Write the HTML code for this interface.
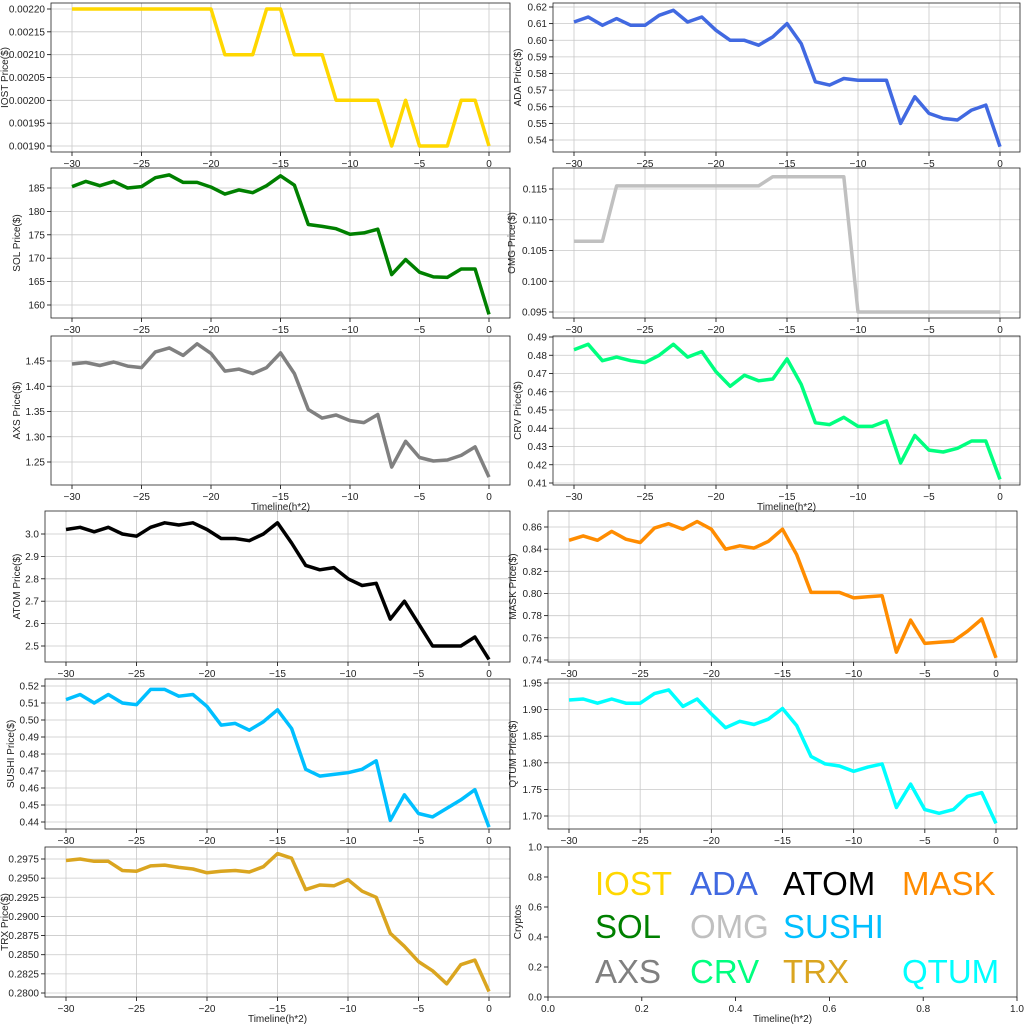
<!DOCTYPE html><html><head><meta charset="utf-8"><style>body{margin:0;background:#fff}svg{display:block}text{font-family:"Liberation Sans","DejaVu Sans",sans-serif}</style></head><body>
<svg id="s" width="1024" height="1024" xmlns="http://www.w3.org/2000/svg"></svg>
<script>
const S=document.getElementById('s');let h='';
function P(o){
 const {L,R,T,B,x30,x0,v1,y1,v2,y2,ticks,fmt,data,color,label,lx,xl}=o;
 const xs=x=>x30+(x+30)*(x0-x30)/30, ys=v=>y1+(v-v1)*(y2-y1)/(v2-v1);
 h+=`<g>`;
 for(let t=-30;t<=0;t+=5){const X=xs(t);h+=`<line x1="${X}" y1="${T}" x2="${X}" y2="${B}" stroke="#c8c8c8" stroke-width="0.8"/><line x1="${X}" y1="${B}" x2="${X}" y2="${B+4}" stroke="#000" stroke-width="0.8"/><text x="${X}" y="${B+15}" font-size="10" text-anchor="middle" fill="#222">${t<0?'−'+(-t):t}</text>`;}
 ticks.forEach(t=>{const Y=ys(t);h+=`<line x1="${L}" y1="${Y}" x2="${R}" y2="${Y}" stroke="#c8c8c8" stroke-width="0.8"/><line x1="${L-4}" y1="${Y}" x2="${L}" y2="${Y}" stroke="#000" stroke-width="0.8"/><text x="${L-6}" y="${Y+3.5}" font-size="10" text-anchor="end" fill="#222">${t.toFixed(fmt)}</text>`;});
 h+=`<polyline fill="none" stroke="${color}" stroke-width="3.5" stroke-linejoin="round" points="${data.map((v,i)=>xs(i-30).toFixed(1)+','+ys(v).toFixed(1)).join(' ')}"/>`;
 h+=`<rect x="${L}" y="${T}" width="${R-L}" height="${B-T}" fill="none" stroke="#222" stroke-width="0.8"/>`;
 h+=`<text transform="translate(${lx},${(T+B)/2}) rotate(-90)" font-size="10" text-anchor="middle" fill="#222">${label}</text>`;
 if(xl)h+=`<text x="${(L+R)/2}" y="${B+25}" font-size="10" text-anchor="middle" fill="#222">Timeline(h*2)</text>`;
 h+=`</g>`;
}
const rng=(a,b,s)=>{let r=[];for(let v=a;v<=b+s/1e3;v+=s)r.push(+v.toFixed(6));return r};
const TL={L:51,R:510,x30:72,x0:489},TR={L:553,R:1020,x30:574,x0:1000},BL={L:45,R:510,x30:66,x0:489},BR={L:548,R:1017,x30:569,x0:996};
P({...TL,T:3,B:152,v1:0.0022,y1:9,v2:0.0019,y2:146,ticks:rng(0.0019,0.0022,0.00005),fmt:5,color:'#FFD700',label:'IOST Price($)',lx:8,
data:[.0022,.0022,.0022,.0022,.0022,.0022,.0022,.0022,.0022,.0022,.0022,.0021,.0021,.0021,.0022,.0022,.0021,.0021,.0021,.002,.002,.002,.002,.0019,.002,.0019,.0019,.0019,.002,.002,.0019]});
P({...TR,T:3,B:152,v1:0.62,y1:7,v2:0.54,y2:140,ticks:rng(0.54,0.62,0.01),fmt:2,color:'#4169E1',label:'ADA  Price($)',lx:521,
data:[.611,.614,.609,.613,.609,.609,.615,.618,.611,.614,.606,.6,.6,.597,.602,.61,.598,.575,.573,.577,.576,.576,.576,.55,.566,.556,.553,.552,.558,.561,.536]});
P({...TL,T:168,B:318,v1:185,y1:188,v2:160,y2:305,ticks:rng(160,185,5),fmt:0,color:'#008000',label:'SOL Price($)',lx:20,
data:[185.3,186.4,185.5,186.4,185,185.3,187.2,187.8,186.2,186.2,185.2,183.7,184.6,184,185.5,187.6,185.6,177.2,176.8,176.3,175.1,175.4,176.2,166.5,169.7,167,166,165.9,167.7,167.7,158]});
P({...TR,T:168,B:318,v1:0.115,y1:189,v2:0.095,y2:312,ticks:rng(0.095,0.115,0.005),fmt:3,color:'#C0C0C0',label:'OMG  Price($)',lx:515,
data:[.1065,.1065,.1065,.1155,.1155,.1155,.1155,.1155,.1155,.1155,.1155,.1155,.1155,.1155,.117,.117,.117,.117,.117,.117,.095,.095,.095,.095,.095,.095,.095,.095,.095,.095,.095]});
P({...TL,T:336,B:485,v1:1.45,y1:361,v2:1.25,y2:462,ticks:rng(1.25,1.45,0.05),fmt:2,color:'#808080',label:'AXS Price($)',lx:20,xl:1,
data:[1.444,1.447,1.441,1.448,1.44,1.437,1.468,1.476,1.461,1.484,1.465,1.43,1.434,1.425,1.437,1.466,1.425,1.354,1.337,1.343,1.332,1.328,1.344,1.24,1.291,1.259,1.252,1.254,1.263,1.28,1.22]});
P({...TR,T:336,B:485,v1:0.49,y1:337,v2:0.41,y2:483,ticks:rng(0.41,0.49,0.01),fmt:2,color:'#00FF7F',label:'CRV  Price($)',lx:521,xl:1,
data:[.483,.486,.477,.479,.477,.476,.48,.486,.479,.482,.471,.463,.469,.466,.467,.478,.464,.443,.442,.446,.441,.441,.444,.421,.436,.428,.427,.429,.433,.433,.412]});
P({...BL,T:511,B:662,v1:3.0,y1:534,v2:2.5,y2:646,ticks:rng(2.5,3.0,0.1),fmt:1,color:'#000',label:'ATOM  Price($)',lx:20,
data:[3.02,3.03,3.01,3.03,3.0,2.99,3.03,3.05,3.04,3.05,3.02,2.98,2.98,2.97,3.0,3.05,2.96,2.86,2.84,2.85,2.8,2.77,2.78,2.62,2.7,2.6,2.5,2.5,2.5,2.54,2.44]});
P({...BR,T:511,B:662,v1:0.86,y1:527,v2:0.74,y2:660,ticks:rng(0.74,0.86,0.02),fmt:2,color:'#FF8C00',label:'MASK  Price($)',lx:516,
data:[.848,.852,.848,.856,.849,.846,.859,.863,.858,.865,.858,.84,.843,.841,.847,.858,.835,.801,.801,.801,.796,.797,.798,.747,.776,.755,.756,.757,.766,.777,.742]});
P({...BL,T:679,B:829,v1:0.52,y1:686,v2:0.44,y2:822,ticks:rng(0.44,0.52,0.01),fmt:2,color:'#00BFFF',label:'SUSHI  Price($)',lx:14,
data:[.512,.515,.51,.515,.51,.509,.518,.518,.514,.515,.508,.497,.498,.494,.499,.506,.495,.471,.467,.468,.469,.471,.476,.441,.456,.445,.443,.448,.453,.459,.437]});
P({...BR,T:679,B:829,v1:1.95,y1:683,v2:1.70,y2:816,ticks:rng(1.7,1.95,0.05),fmt:2,color:'#00FFFF',label:'QTUM Price($)',lx:516,
data:[1.918,1.92,1.912,1.92,1.912,1.912,1.93,1.937,1.906,1.92,1.892,1.866,1.878,1.872,1.882,1.902,1.87,1.812,1.798,1.794,1.784,1.792,1.798,1.716,1.76,1.712,1.705,1.712,1.737,1.744,1.686]});
P({...BL,T:847,B:997,v1:0.2975,y1:859,v2:0.28,y2:993,ticks:rng(0.28,0.2975,0.0025),fmt:4,color:'#DAA520',label:'TRX Price($)',lx:8,xl:1,
data:[.2973,.2975,.2972,.2972,.296,.2959,.2966,.2967,.2964,.2962,.2957,.2959,.296,.2958,.2965,.2982,.2976,.2935,.2941,.294,.2948,.2933,.2925,.2878,.2861,.2841,.2829,.2812,.2837,.2843,.2802]});
{const L=548,R=1017,T=847,B=997;
 for(let i=0;i<=5;i++){const v=i/5,X=L+v*(R-L),Y=B-v*(B-T);
  h+=`<line x1="${X}" y1="${B}" x2="${X}" y2="${B+4}" stroke="#000" stroke-width="0.8"/><text x="${X}" y="${B+15}" font-size="10" text-anchor="middle" fill="#222">${v.toFixed(1)}</text>`;
  h+=`<line x1="${L-4}" y1="${Y}" x2="${L}" y2="${Y}" stroke="#000" stroke-width="0.8"/><text x="${L-6}" y="${Y+3.5}" font-size="10" text-anchor="end" fill="#222">${v.toFixed(1)}</text>`;}
 h+=`<rect x="${L}" y="${T}" width="${R-L}" height="${B-T}" fill="none" stroke="#222" stroke-width="0.8"/>`;
 h+=`<text transform="translate(521,922) rotate(-90)" font-size="10" text-anchor="middle" fill="#222">Cryptos</text>`;
 h+=`<text x="${(L+R)/2}" y="${B+25}" font-size="10" text-anchor="middle" fill="#222">Timeline(h*2)</text>`;
 [['IOST',595,895,'#FFD700'],['ADA',690,895,'#4169E1'],['ATOM',783,895,'#000'],['MASK',902,895,'#FF8C00'],
  ['SOL',595,938,'#008000'],['OMG',690,938,'#C0C0C0'],['SUSHI',783,938,'#00BFFF'],
  ['AXS',595,983,'#808080'],['CRV',690,983,'#00FF7F'],['TRX',783,983,'#DAA520'],['QTUM',902,983,'#00FFFF']]
 .forEach(([t,x,y,c])=>h+=`<text x="${x}" y="${y}" font-size="33" fill="${c}">${t}</text>`);}
S.innerHTML=h;
</script></body></html>
